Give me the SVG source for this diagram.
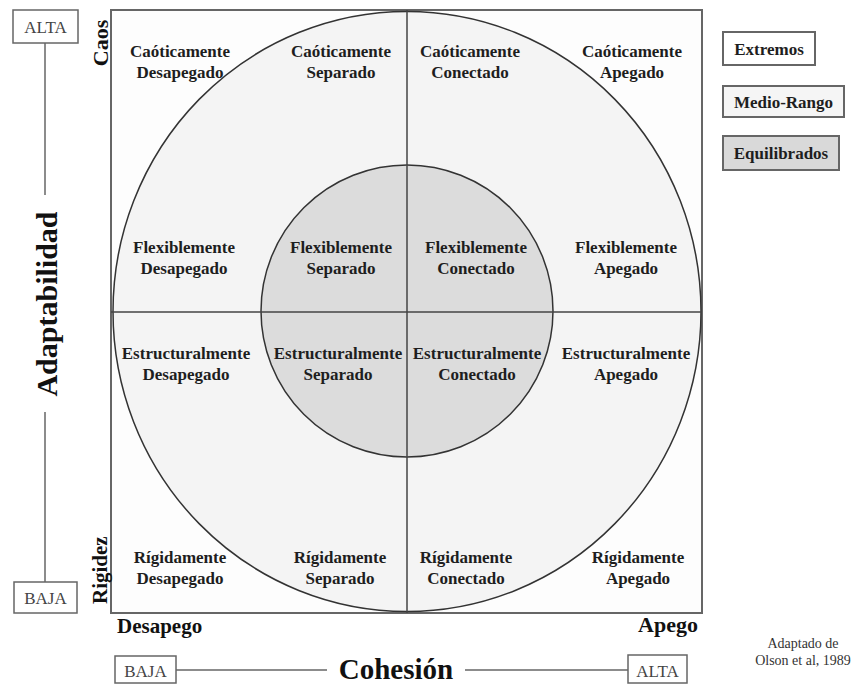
<svg xmlns="http://www.w3.org/2000/svg" width="853" height="684" viewBox="0 0 853 684">
<style>
  text { font-family: "Liberation Serif", "Times New Roman", serif; fill: #1e1e1e; }
  .cell { font-size: 17px; font-weight: bold; text-anchor: middle; }
  .axis { font-weight: bold; fill: #111; }
  .lvl { font-size: 17px; text-anchor: middle; fill: #444; }
  .lvlbox { fill: #ffffff; stroke: #666; stroke-width: 1.5; }
  .leg { font-size: 17px; font-weight: bold; }
  .legbox { stroke: #666; stroke-width: 2; }
  .grid { stroke: #444; stroke-width: 1.5; fill: none; }
  .conn { stroke: #666; stroke-width: 1.5; fill: none; }
  .note { font-size: 14px; text-anchor: middle; fill: #333; }
</style>
<rect x="0" y="0" width="853" height="684" fill="#ffffff"/>

<g id="grid">
  <rect x="111" y="10" width="591" height="603" fill="#fdfdfd" stroke="#666" stroke-width="2"/>
  <ellipse cx="407" cy="311.5" rx="294" ry="300" fill="#f4f4f4" stroke="#333" stroke-width="1.5"/>
  <circle cx="407" cy="311" r="146" fill="#dcdcdc" stroke="#333" stroke-width="1.5"/>
  <line class="grid" x1="407" y1="10" x2="407" y2="613"/>
  <line class="grid" x1="111" y1="312" x2="702" y2="312"/>
</g>

<g id="connectors">
  <line class="conn" x1="45" y1="43" x2="45" y2="195"/>
  <line class="conn" x1="45" y1="412" x2="45" y2="582"/>
  <line class="conn" x1="176" y1="670" x2="327" y2="670"/>
  <line class="conn" x1="465" y1="670" x2="628" y2="670"/>
</g>

<g id="caoticamente-desapegado"><text class="cell" x="180" y="57">Caóticamente<tspan x="180" dy="21">Desapegado</tspan></text></g>
<g id="caoticamente-separado"><text class="cell" x="341" y="57">Caóticamente<tspan x="341" dy="21">Separado</tspan></text></g>
<g id="caoticamente-conectado"><text class="cell" x="470" y="57">Caóticamente<tspan x="470" dy="21">Conectado</tspan></text></g>
<g id="caoticamente-apegado"><text class="cell" x="632" y="57">Caóticamente<tspan x="632" dy="21">Apegado</tspan></text></g>

<g id="flexiblemente-desapegado"><text class="cell" x="184" y="253">Flexiblemente<tspan x="184" dy="21">Desapegado</tspan></text></g>
<g id="flexiblemente-separado"><text class="cell" x="341" y="253">Flexiblemente<tspan x="341" dy="21">Separado</tspan></text></g>
<g id="flexiblemente-conectado"><text class="cell" x="476" y="253">Flexiblemente<tspan x="476" dy="21">Conectado</tspan></text></g>
<g id="flexiblemente-apegado"><text class="cell" x="626" y="253">Flexiblemente<tspan x="626" dy="21">Apegado</tspan></text></g>

<g id="estructuralmente-desapegado"><text class="cell" x="186" y="359">Estructuralmente<tspan x="186" dy="21">Desapegado</tspan></text></g>
<g id="estructuralmente-separado"><text class="cell" x="338" y="359">Estructuralmente<tspan x="338" dy="21">Separado</tspan></text></g>
<g id="estructuralmente-conectado"><text class="cell" x="477" y="359">Estructuralmente<tspan x="477" dy="21">Conectado</tspan></text></g>
<g id="estructuralmente-apegado"><text class="cell" x="626" y="359">Estructuralmente<tspan x="626" dy="21">Apegado</tspan></text></g>

<g id="rigidamente-desapegado"><text class="cell" x="180" y="563">Rígidamente<tspan x="180" dy="21">Desapegado</tspan></text></g>
<g id="rigidamente-separado"><text class="cell" x="340" y="563">Rígidamente<tspan x="340" dy="21">Separado</tspan></text></g>
<g id="rigidamente-conectado"><text class="cell" x="466" y="563">Rígidamente<tspan x="466" dy="21">Conectado</tspan></text></g>
<g id="rigidamente-apegado"><text class="cell" x="638" y="563">Rígidamente<tspan x="638" dy="21">Apegado</tspan></text></g>

<g id="legend-extremos">
  <rect class="legbox" x="723" y="32" width="92" height="33" fill="#ffffff"/>
  <text class="leg" x="769" y="55" text-anchor="middle">Extremos</text>
</g>
<g id="legend-medio-rango">
  <rect class="legbox" x="723" y="86" width="121" height="31" fill="#f5f5f5"/>
  <text class="leg" x="783.5" y="108" text-anchor="middle">Medio-Rango</text>
</g>
<g id="legend-equilibrados">
  <rect class="legbox" x="723" y="136" width="116" height="34" fill="#d9d9d9"/>
  <text class="leg" x="781" y="159" text-anchor="middle">Equilibrados</text>
</g>

<g id="adaptabilidad-alta">
  <rect class="lvlbox" x="13" y="10" width="65" height="33"/>
  <text class="lvl" x="45.5" y="33">ALTA</text>
</g>
<g id="adaptabilidad-baja">
  <rect class="lvlbox" x="14" y="582" width="63" height="31"/>
  <text class="lvl" x="45.5" y="604">BAJA</text>
</g>
<g id="adaptabilidad">
  <text class="axis" font-size="30" text-anchor="middle" transform="translate(57,304) rotate(-90)">Adaptabilidad</text>
</g>
<g id="caos">
  <text class="axis" font-size="22" text-anchor="middle" transform="translate(108,43) rotate(-90)">Caos</text>
</g>
<g id="rigidez">
  <text class="axis" font-size="21" text-anchor="start" transform="translate(107,604) rotate(-90)">Rigidez</text>
</g>

<g id="desapego"><text class="axis" font-size="21" x="117" y="633">Desapego</text></g>
<g id="apego"><text class="axis" font-size="22" x="698" y="632" text-anchor="end">Apego</text></g>

<g id="cohesion-baja">
  <rect class="lvlbox" x="115" y="656" width="61" height="27"/>
  <text class="lvl" x="145.5" y="677">BAJA</text>
</g>
<g id="cohesion">
  <text class="axis" font-size="29" x="396" y="679" text-anchor="middle">Cohesión</text>
</g>
<g id="cohesion-alta">
  <rect class="lvlbox" x="628" y="655" width="59" height="28"/>
  <text class="lvl" x="657.5" y="677">ALTA</text>
</g>

<g id="source-note">
  <text class="note" x="803" y="648">Adaptado de</text>
  <text class="note" x="803" y="665">Olson et al, 1989</text>
</g>
</svg>
